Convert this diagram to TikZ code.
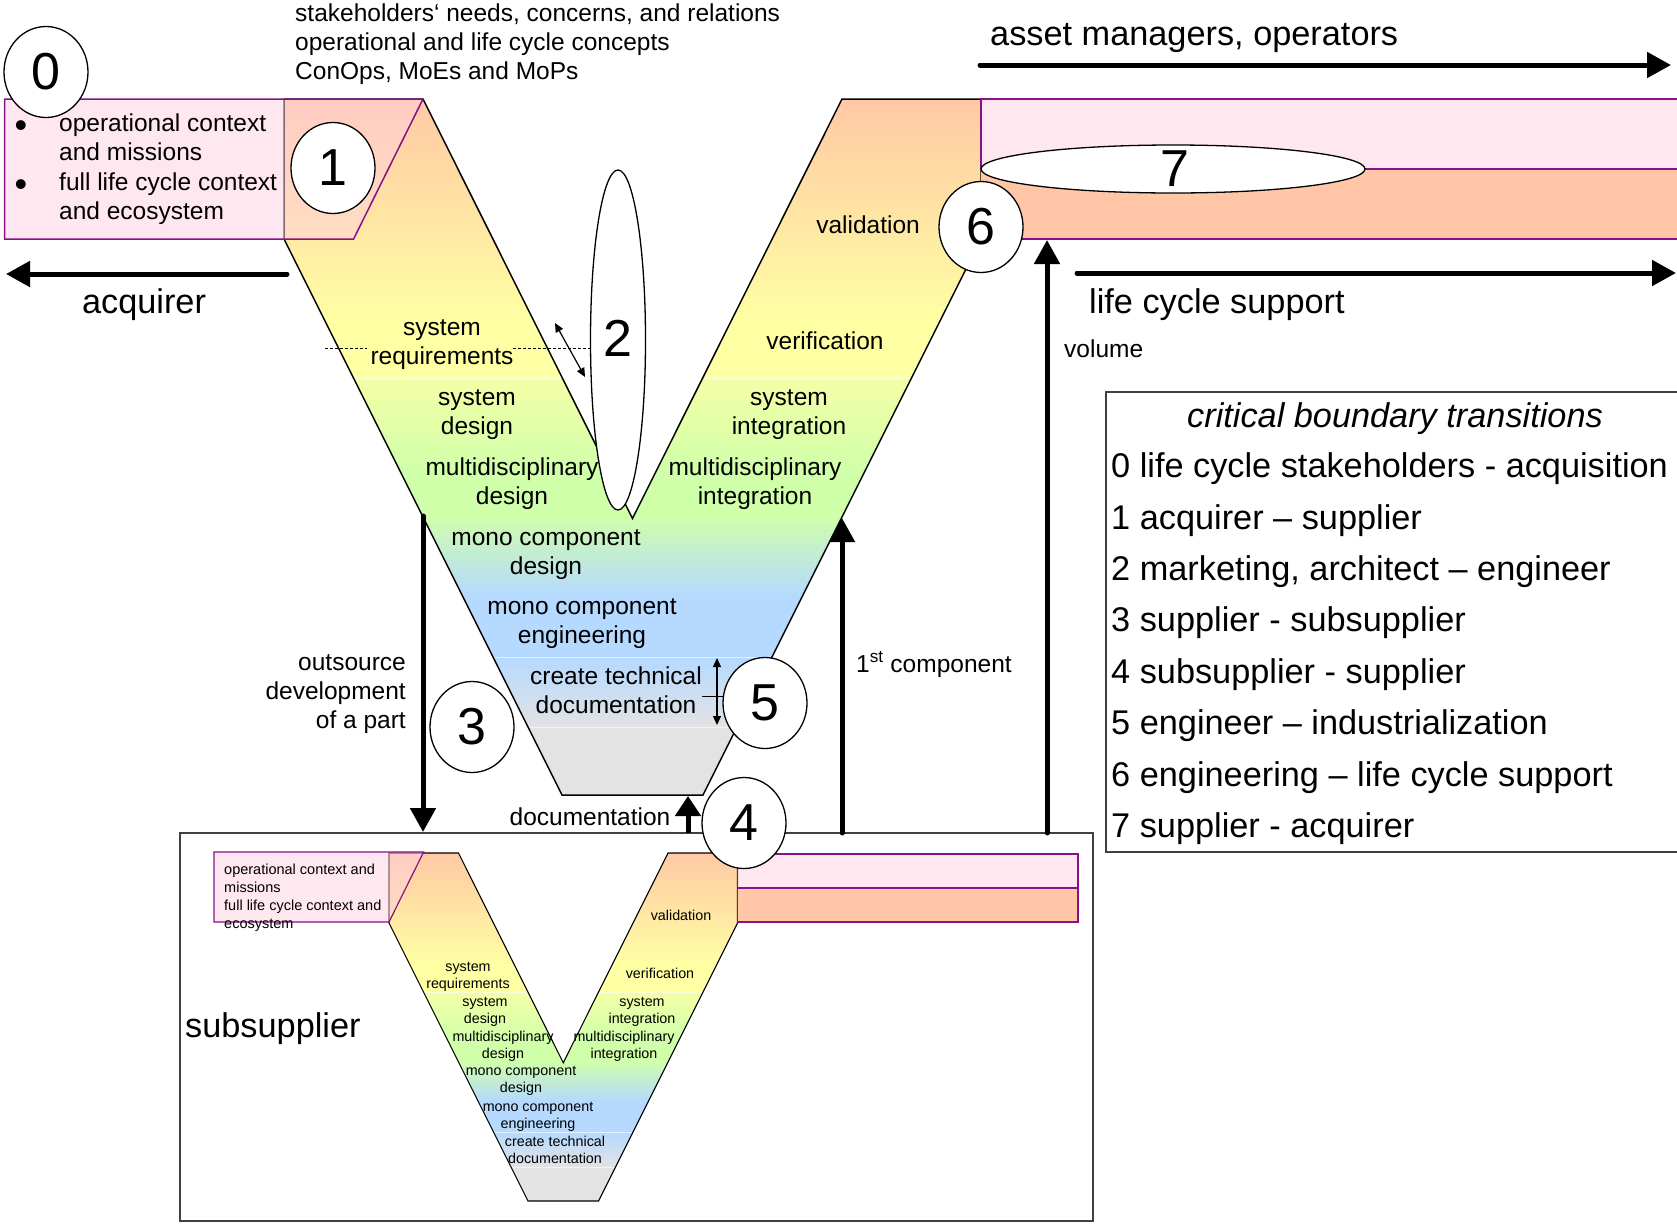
\documentclass[tikz,border=0pt]{standalone}
\usepackage{fontspec}
\setmainfont{Liberation Sans}
\usetikzlibrary{arrows.meta,shapes.geometric}
\definecolor{vPeach}{HTML}{FFC8A5}
\definecolor{vYellow}{HTML}{FFFFA3}
\definecolor{vYellowG}{HTML}{F4FFA6}
\definecolor{vGreen}{HTML}{D0FFAA}
\definecolor{vBlue}{HTML}{B5D9FF}
\definecolor{vGray}{HTML}{E3E3E3}
\definecolor{pinkF}{HTML}{FFD1E0}
\definecolor{purp}{HTML}{8A108A}
\definecolor{orangeB}{HTML}{FFC6A7}
\definecolor{boxgray}{HTML}{404040}
\newcommand{\fs}[2]{\fontsize{#1pt}{#2pt}\selectfont}
\newcommand{\Vfill}{%
  \begin{scope}
  \clip (284,99) -- (423,99) -- (632.5,518.5) -- (842,99) -- (981,99) -- (981,239) -- (703,795) -- (562,795) -- (284,239) -- cycle;
  \shade[top color=vPeach,bottom color=vYellow] (200,98) rectangle (1060,321);
  \fill[vYellow] (200,320) rectangle (1060,379);
  \shade[top color=vYellowG,bottom color=vGreen] (200,378) rectangle (1060,471);
  \fill[vGreen] (200,470) rectangle (1060,516);
  \shade[top color=vGreen,bottom color=vBlue] (200,515) rectangle (1060,596);
  \fill[vBlue] (200,595) rectangle (1060,658);
  \shade[top color=vBlue,bottom color=vGray] (200,657) rectangle (1060,728);
  \fill[vGray] (200,727) rectangle (1060,800);
  \draw[white,line width=0.6pt,opacity=0.6] (200,378) -- (1060,378) (200,657) -- (1060,657) (200,727) -- (1060,727);
  \end{scope}}
\newcommand{\Voutline}[1]{%
  \draw[line width=#1,line join=miter] (284,99) -- (423,99) -- (632.5,518.5) -- (842,99) -- (981,99) -- (981,239) -- (703,795) -- (562,795) -- (284,239) -- cycle;}
\begin{document}
\begin{tikzpicture}[x=1pt,y=-1pt,
  tx/.style={font=\fs{24.5}{29}, inner sep=0pt, align=center, anchor=base},
  txl/.style={font=\fs{24.5}{29.3}, inner sep=0pt, align=left, anchor=base west},
  bigt/.style={font=\fs{34.3}{40}, inner sep=0pt, anchor=base west},
  sm/.style={font=\fs{14.3}{17}, inner sep=0pt, align=center, anchor=base},
  circ/.style={ellipse, draw, line width=1.3pt, fill=white, minimum width=84pt, minimum height=91pt, inner sep=0pt},
  digit/.style={font=\fs{52}{60}, inner sep=0pt},
  bigarrow/.style={line width=5pt, -{Triangle[length=24pt,width=25pt]}},
  thinarrow/.style={line width=1.2pt, {Triangle[length=9pt,width=8pt]}-{Triangle[length=9pt,width=8pt]}},
  purpline/.style={draw=purp, line width=1.5pt}]
\useasboundingbox (0,0) rectangle (1677,1224);
\fill[white] (0,0) rectangle (1677,1224);

% ---------- big V ----------
\Vfill
\Voutline{1.5pt}

% left pink box
\fill[pinkF, fill opacity=0.5] (4.6,99) -- (423,99) -- (353.6,239) -- (4.6,239) -- cycle;
\draw[purpline] (4.6,99) -- (423,99) -- (353.6,239) -- (4.6,239) -- cycle;

% right bands
\fill[orangeB] (981,169) rectangle (1690,239);
\fill[pinkF, fill opacity=0.5] (981,99) rectangle (1690,169);
\draw[purpline] (981,169) -- (981,99) -- (1690,99);
\draw[purpline] (981,169) -- (1690,169);
\draw[purpline] (981,239) -- (1690,239);

\node[ellipse, draw, line width=1.3pt, fill=white, minimum width=384pt, minimum height=48pt, inner sep=0pt] (c7) at (1173,169) {};
\node[digit] (d7) at (1175,169) {7};

% ---------- subsupplier box ----------
\draw[boxgray, line width=1.5pt] (180,833) rectangle (1093,1221);
\node[bigt] (subs) at (185,1037) {subsupplier};

\begin{scope}[shift={(247,803.5)}, scale=0.5]
\Vfill
\end{scope}
\draw[line width=1.1pt, line join=miter] (389,853) -- (458.5,853) -- (563.25,1062.75) -- (668,853) -- (737.5,853) -- (737.5,923) -- (598.5,1201) -- (528,1201) -- (389,923) -- cycle;

\fill[pinkF, fill opacity=0.5] (214,852) -- (423.6,852) -- (389,922) -- (214,922) -- cycle;
\draw[purp, line width=1.2pt] (214,852) -- (423.6,852) -- (389,922) -- (214,922) -- cycle;

\fill[orangeB] (737.5,888) rectangle (1078,922);
\fill[pinkF, fill opacity=0.5] (737.5,854) rectangle (1078,888);
\draw[purp, line width=1.2pt] (737.5,854) rectangle (1078,922);
\draw[purp, line width=1.2pt] (737.5,888) -- (1078,888);

\node[font=\fs{14.5}{18}, inner sep=0pt, align=left, anchor=base west] (subctx) at (224,928) {operational context and\\missions\\full life cycle context and\\ecosystem};

\node[sm] (s1) at (468,988) {system\\requirements};
\node[sm] (s2) at (485,1023) {system\\design};
\node[sm] (s3) at (503,1058) {multidisciplinary\\design};
\node[sm] (s4) at (521,1092) {mono component\\design};
\node[sm] (s5) at (538,1128) {mono component\\engineering};
\node[sm] (s6) at (555,1163) {create technical\\documentation};
\node[sm] (s7) at (681,920) {validation};
\node[sm] (s8) at (660,978) {verification};
\node[sm] (s9) at (642,1023) {system\\integration};
\node[sm] (s10) at (624,1058) {multidisciplinary\\integration};

% ---------- texts ----------
\node[txl, font=\fs{24.5}{29}] (stake) at (295,79.5) {stakeholders‘ needs, concerns, and relations\\operational and life cycle concepts\\ConOps, MoEs and MoPs};
\node[txl] (ctx) at (59,219.4) {operational context\\and missions\\full life cycle context\\and ecosystem};
\node[font=\fs{36}{40}, inner sep=0pt, anchor=base] (b1) at (21,137) {•};
\node[font=\fs{36}{40}, inner sep=0pt, anchor=base] (b2) at (21,196) {•};

\node[font=\fs{34.3}{40}, inner sep=0pt, anchor=base] (acq) at (144,313) {acquirer};
\node[bigt] (asset) at (990,45) {asset managers, operators};
\node[bigt] (lcs) at (1089,313) {life cycle support};
\node[font=\fs{24.5}{29}, inner sep=0pt, anchor=base west] (vol) at (1064,357) {volume};

\node[tx] (t1) at (442,364) {system\\requirements};
\node[tx] (t2) at (477,434) {system\\design};
\node[tx] (t3) at (512,504) {multidisciplinary\\design};
\node[tx] (t4) at (546,574) {mono component\\design};
\node[tx] (t5) at (582,643) {mono component\\engineering};
\node[tx] (t6) at (616,713) {create technical\\documentation};
\node[tx] (t7) at (868,233) {validation};
\node[tx] (t8) at (825,349) {verification};
\node[tx] (t9) at (789,434) {system\\integration};
\node[tx] (t10) at (755,504) {multidisciplinary\\integration};
\node[tx] (tdoc) at (590,825) {documentation};
\node[font=\fs{24.5}{29}, inner sep=0pt, align=right, anchor=base east] (tout) at (406,728) {outsource\\development\\of a part};
\node[font=\fs{24.5}{29}, inner sep=0pt, anchor=base west] (tfirst) at (856,672) {1\textsuperscript{st} component};

% boundary markers
\draw[line width=1pt, dash pattern=on 3pt off 2pt] (325,348) -- (367,348);
\draw[line width=1pt, dash pattern=on 3pt off 2pt] (513,348) -- (591,348);
\coordinate (m2a) at (555,323);
\coordinate (m2b) at (585,377);
\draw[thinarrow] (m2a) -- (m2b);
\coordinate (m5a) at (717,658);
\coordinate (m5b) at (717,725);
\draw[thinarrow] (m5a) -- (m5b);
\draw[line width=1pt] (702,696) -- (723,696);

% ---------- arrows ----------
\coordinate (acqS) at (287,274);
\coordinate (acqE) at (6,274);
\coordinate (assS) at (980,65);
\coordinate (assE) at (1671,65);
\coordinate (lcsS) at (1077,273);
\coordinate (lcsE) at (1676,273);
\coordinate (volS) at (1047,833);
\coordinate (volE) at (1047,240);
\coordinate (fcS) at (842,833);
\coordinate (fcE) at (842,518);
\coordinate (outS) at (423,516);
\coordinate (outE) at (423,832);
\coordinate (docS) at (688,833);
\coordinate (docE) at (688,796);
\draw[bigarrow, line cap=round] (acqS) -- (acqE);
\draw[bigarrow, line cap=round] (assS) -- (assE);
\draw[bigarrow, line cap=round] (lcsS) -- (lcsE);
\draw[bigarrow, line cap=round] (volS) -- (volE);
\draw[bigarrow, line cap=round] (fcS) -- (fcE);
\draw[bigarrow, line cap=round] (outS) -- (outE);
\draw[line width=5pt, -{Triangle[length=20pt,width=25pt]}] (docS) -- (docE);

% ---------- circles ----------
\node[circ] (c0) at (46,72) {};
\node[digit] (d0) at (c0) {0};
\node[circ] (c1) at (333,168) {};
\node[digit] (d1) at (c1) {1};
\node[ellipse, draw, line width=1.3pt, fill=white, minimum width=55pt, minimum height=340pt, inner sep=0pt] (c2) at (618,340) {};
\node[digit] (d2) at (618,338) {2};
\node[circ] (c3) at (472,727) {};
\node[digit] (d3) at (c3) {3};
\node[circ] (c4) at (744,823) {};
\node[digit] (d4) at (c4) {4};
\node[circ] (c5) at (765,703) {};
\node[digit] (d5) at (c5) {5};
\node[circ] (c6) at (981,227) {};
\node[digit] (d6) at (c6) {6};

% ---------- legend ----------
\draw[boxgray, line width=1.2pt] (1106,392) rectangle (1700,852);
\node[font=\itshape\fs{34.3}{40}, inner sep=0pt, anchor=base] (lgt) at (1395,427) {critical boundary transitions};
\node[bigt] (l0) at (1111,477) {0 life cycle stakeholders - acquisition};
\node[bigt] (l1) at (1111,529) {1 acquirer – supplier};
\node[bigt] (l2) at (1111,580) {2 marketing, architect – engineer};
\node[bigt] (l3) at (1111,631) {3 supplier - subsupplier};
\node[bigt] (l4) at (1111,683) {4 subsupplier - supplier};
\node[bigt] (l5) at (1111,734) {5 engineer – industrialization};
\node[bigt] (l6) at (1111,786) {6 engineering – life cycle support};
\node[bigt] (l7) at (1111,837) {7 supplier - acquirer};
\end{tikzpicture}
\end{document}
